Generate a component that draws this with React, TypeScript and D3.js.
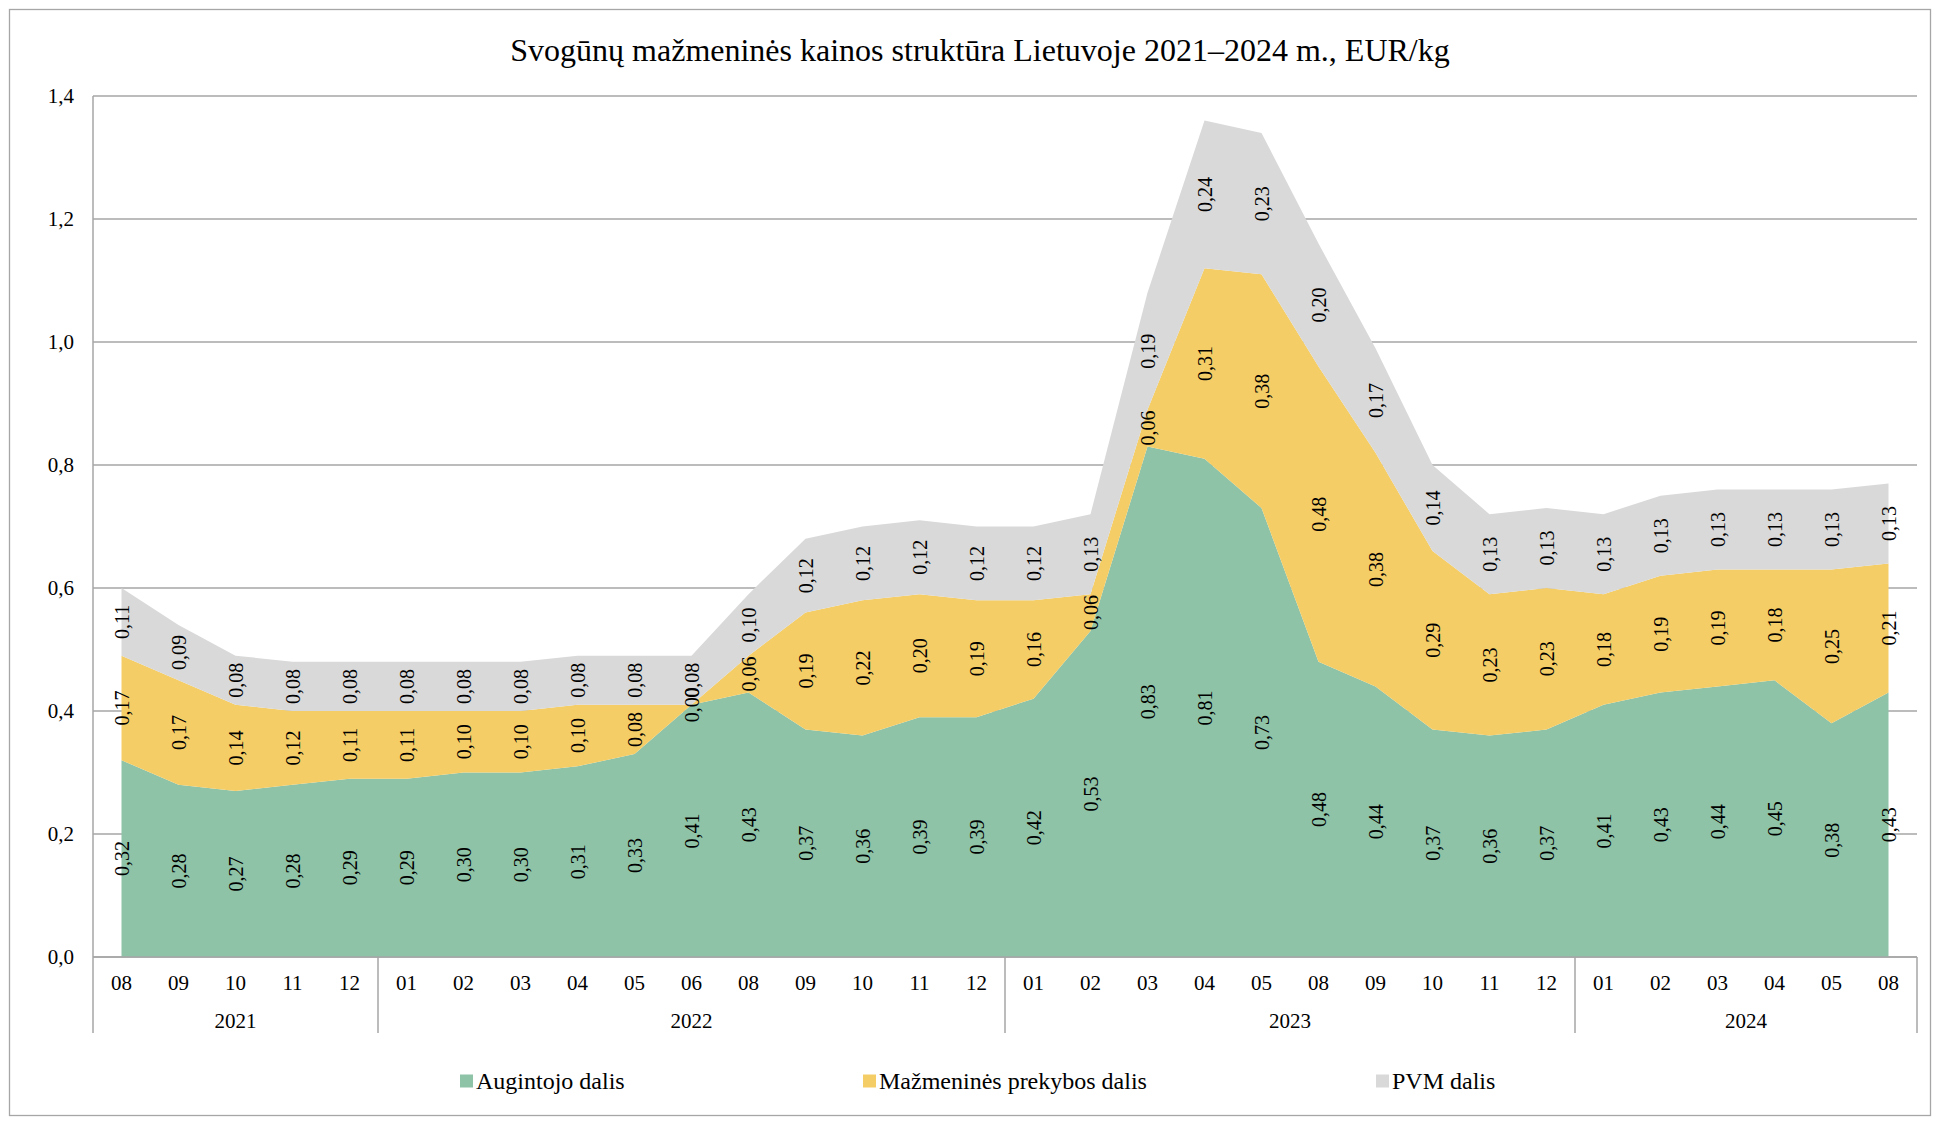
import React from 'react';
import * as d3 from 'd3';

const months = [
  '08', '09', '10', '11', '12',
  '01', '02', '03', '04', '05', '06', '08', '09', '10', '11', '12',
  '01', '02', '03', '04', '05', '08', '09', '10', '11', '12',
  '01', '02', '03', '04', '05', '08',
];
const years = ['2021', '2022', '2023', '2024'];
const yearCounts = [5, 11, 10, 6];

const augintojo = [
  0.32, 0.28, 0.27, 0.28, 0.29,
  0.29, 0.30, 0.30, 0.31, 0.33, 0.41, 0.43, 0.37, 0.36, 0.39, 0.39,
  0.42, 0.53, 0.83, 0.81, 0.73, 0.48, 0.44, 0.37, 0.36, 0.37,
  0.41, 0.43, 0.44, 0.45, 0.38, 0.43,
];
const prekybos = [
  0.17, 0.17, 0.14, 0.12, 0.11,
  0.11, 0.10, 0.10, 0.10, 0.08, 0.00, 0.06, 0.19, 0.22, 0.20, 0.19,
  0.16, 0.06, 0.06, 0.31, 0.38, 0.48, 0.38, 0.29, 0.23, 0.23,
  0.18, 0.19, 0.19, 0.18, 0.25, 0.21,
];
const pvm = [
  0.11, 0.09, 0.08, 0.08, 0.08,
  0.08, 0.08, 0.08, 0.08, 0.08, 0.08, 0.10, 0.12, 0.12, 0.12, 0.12,
  0.12, 0.13, 0.19, 0.24, 0.23, 0.20, 0.17, 0.14, 0.13, 0.13,
  0.13, 0.13, 0.13, 0.13, 0.13, 0.13,
];
const yTicks = [0, 0.2, 0.4, 0.6, 0.8, 1.0, 1.2, 1.4];

const seriesKeys = ['augintojo', 'prekybos', 'pvm'];
const seriesNames = ['Augintojo dalis', 'Mažmeninės prekybos dalis', 'PVM dalis'];
const colors = ['#8EC3A7', '#F5CD66', '#D9D9D9'];

const W = 1939;
const H = 1124;
const margin = { left: 93, right: 1917, top: 96, bottom: 957 };
const font = '"Liberation Serif", "Times New Roman", serif';
const fmt = (v: number) => v.toFixed(2).replace('.', ',');

export default function App() {
  const rows = months.map((m, i) => ({
    augintojo: augintojo[i],
    prekybos: prekybos[i],
    pvm: pvm[i],
  }));
  const stacked = d3.stack<any>().keys(seriesKeys)(rows);

  const x = d3.scaleBand<number>()
    .domain(d3.range(months.length))
    .range([margin.left, margin.right]);
  const cx = (i: number) => (x(i) ?? 0) + x.bandwidth() / 2;
  const y = d3.scaleLinear().domain([0, 1.4]).range([margin.bottom, margin.top]);

  const area = d3.area<any>()
    .x((d, i) => cx(i))
    .y0(d => y(d[0]))
    .y1(d => y(d[1]));

  const axisColor = '#A6A6A6';
  const monthY = 983;
  const yearY = 1021;
  const sepBottom = 1033;

  // year group boundaries
  const bounds: number[] = [0];
  yearCounts.forEach((c, i) => bounds.push(bounds[i] + c));

  const legendX = [460, 863, 1376];

  return (
    <svg width={W} height={H} style={{ display: 'block', position: 'absolute', left: 0, top: 0 }}>
      <rect x={0} y={0} width={W} height={H} fill="#fff" />
      <rect x={9.5} y={9.5} width={1921} height={1106} fill="#fff" stroke={axisColor} strokeWidth={1.3} />

      <text x={980} y={50} textAnchor="middle" dominantBaseline="central"
        fontFamily={font} fontSize={32} fill="#000">
        Svogūnų mažmeninės kainos struktūra Lietuvoje 2021–2024 m., EUR/kg
      </text>

      {/* gridlines */}
      {yTicks.map(t => (
        <g key={t}>
          <line x1={margin.left} x2={margin.right} y1={y(t)} y2={y(t)} stroke={axisColor} strokeWidth={1.5} />
          <text x={74} y={y(t)} textAnchor="end" dominantBaseline="central"
            fontFamily={font} fontSize={21} fill="#000">
            {t.toFixed(1).replace('.', ',')}
          </text>
        </g>
      ))}

      {/* stacked areas */}
      {stacked.map((s, k) => (
        <path key={k} d={area(s as any) ?? ''} fill={colors[k]} />
      ))}

      {/* axes */}
      <line x1={margin.left} x2={margin.left} y1={margin.top} y2={sepBottom} stroke={axisColor} strokeWidth={1.5} />
      <line x1={margin.left} x2={margin.right} y1={margin.bottom} y2={margin.bottom} stroke={axisColor} strokeWidth={1.5} />
      {bounds.slice(1).map((b, i) => (
        <line key={i} x1={x(b - 1)! + x.bandwidth()} x2={x(b - 1)! + x.bandwidth()}
          y1={margin.bottom} y2={sepBottom} stroke={axisColor} strokeWidth={1.5} />
      ))}

      {/* data labels */}
      {stacked.map((s, k) => s.map((d, i) => (
        <text key={`${k}-${i}`}
          transform={`translate(${cx(i)},${y((d[0] + d[1]) / 2)}) rotate(-90)`}
          textAnchor="middle" dominantBaseline="central"
          fontFamily={font} fontSize={20} fill="#000">
          {fmt(d[1] - d[0])}
        </text>
      )))}

      {/* month labels */}
      {months.map((m, i) => (
        <text key={i} x={cx(i)} y={monthY} textAnchor="middle" dominantBaseline="central"
          fontFamily={font} fontSize={21} fill="#000">{m}</text>
      ))}

      {/* year labels */}
      {years.map((yr, i) => {
        const a = x(bounds[i])!;
        const b = x(bounds[i + 1] - 1)! + x.bandwidth();
        return (
          <text key={yr} x={(a + b) / 2} y={yearY} textAnchor="middle" dominantBaseline="central"
            fontFamily={font} fontSize={21} fill="#000">{yr}</text>
        );
      })}

      {/* legend */}
      {seriesNames.map((n, k) => (
        <g key={n} transform={`translate(${legendX[k]},1081)`}>
          <rect x={0} y={-6.5} width={13} height={13} fill={colors[k]} />
          <text x={16} y={0} dominantBaseline="central" fontFamily={font} fontSize={24} fill="#000">{n}</text>
        </g>
      ))}
    </svg>
  );
}
